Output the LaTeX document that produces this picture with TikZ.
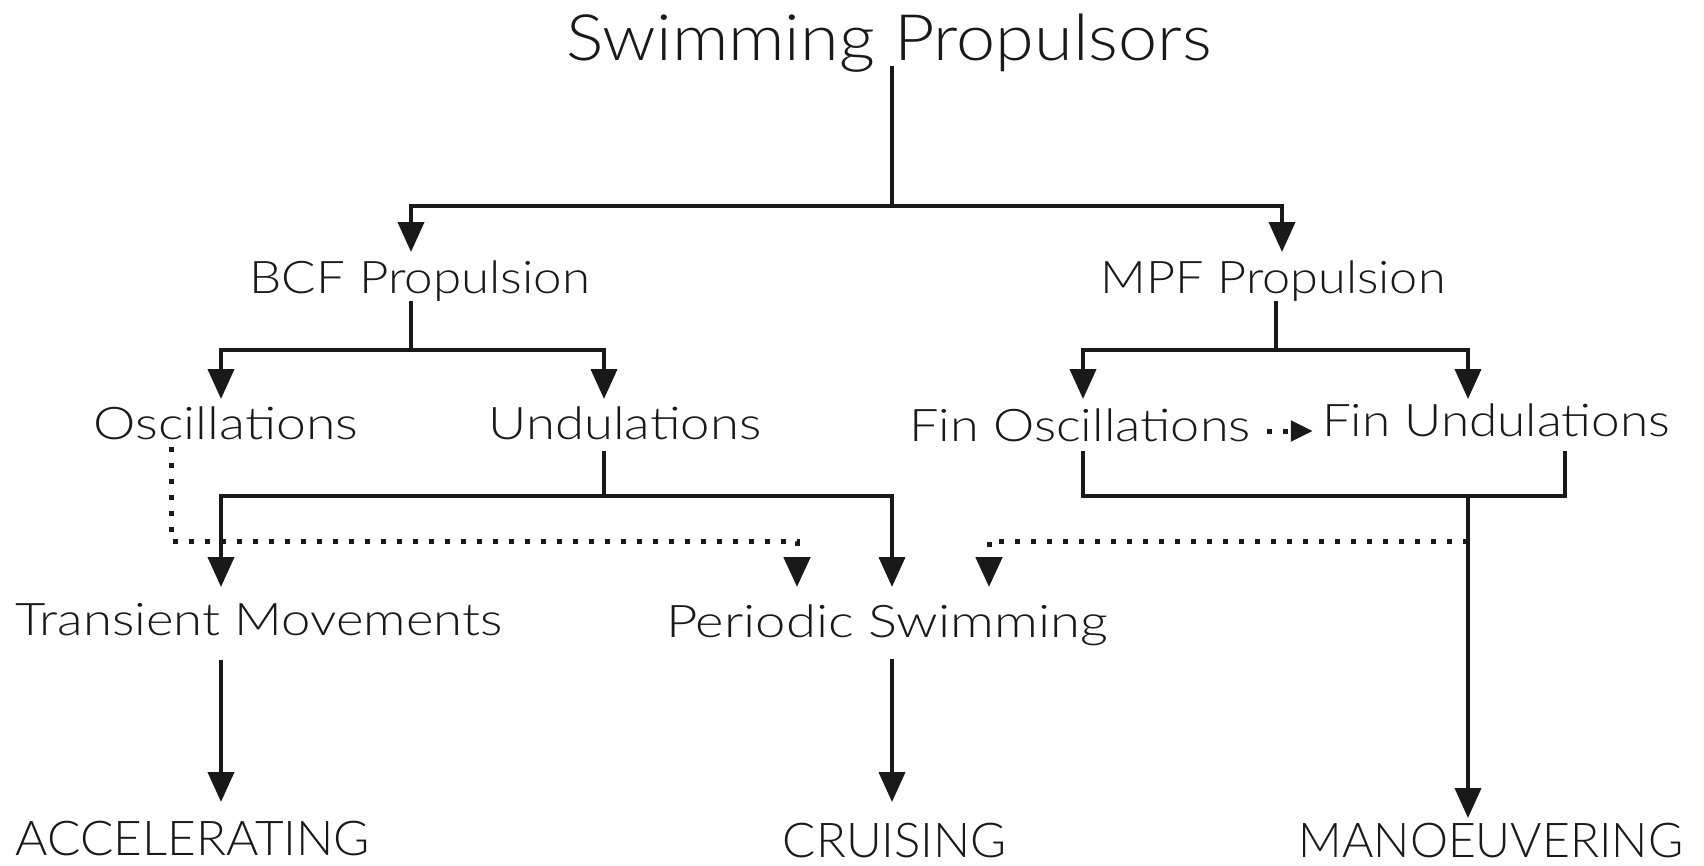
\documentclass[tikz,border=0pt]{standalone}
\usepackage{fontspec}
\usepackage{graphicx}
\setmainfont{Lato Light}
\usetikzlibrary{arrows.meta}
\newcommand{\hsc}[2]{\scalebox{#1}[1]{#2}}
\begin{document}
\begin{tikzpicture}[x=1pt,y=-1pt,
  ln/.style={line width=4pt, line cap=butt, line join=miter, color=black!90},
  arr/.style={ln, -{Triangle[width=26pt,length=30pt]}},
  dotln/.style={line width=5pt, dash pattern=on 5pt off 11pt, color=black!90},
  darr/.style={dotln, -{Triangle[width=26pt,length=30pt]}},
  sarr/.style={dotln, -{Triangle[width=20pt,length=22pt]}},
  lbl/.style={inner sep=0pt, anchor=base, text=black!90, font=\fontsize{45}{50}\selectfont},
  biglbl/.style={lbl, font=\fontsize{64}{70}\selectfont},
  caplbl/.style={lbl, font=\fontsize{48}{54}\selectfont}
]
\useasboundingbox (0,0) rectangle (1704,865);
% texts
\node[biglbl] (title) at (889,60) {\hsc{1.096}{Swimming Propulsors}};
\node[lbl] (bcf) at (420,293) {\hsc{1.135}{BCF Propulsion}};
\node[lbl] (mpf) at (1273,293) {\hsc{1.12}{MPF Propulsion}};
\node[lbl] (osc) at (226,439) {\hsc{1.19}{Oscillations}};
\node[lbl] (und) at (625,439) {\hsc{1.17}{Undulations}};
\node[lbl] (fosc) at (1080,441) {\hsc{1.16}{Fin Oscillations}};
\node[lbl] (fund) at (1496,436) {\hsc{1.14}{Fin Undulations}};
\node[lbl] (trans) at (259,635) {\hsc{1.17}{Transient Movements}};
\node[lbl] (per) at (887,637) {\hsc{1.21}{Periodic Swimming}};
\node[caplbl] (acc) at (193,855) {\hsc{1.03}{ACCELERATING}};
\node[caplbl] (cru) at (895,857) {\hsc{1.025}{CRUISING}};
\node[caplbl] (man) at (1491,857) {MANOEUVERING};
% junctions and tips
\coordinate (tj) at (892,206);
\coordinate (bcfin) at (411,252);
\coordinate (mpfin) at (1282,252);
\coordinate (bj) at (411,350);
\coordinate (oscin) at (221,399);
\coordinate (undin) at (604,399);
\coordinate (mj) at (1276,350);
\coordinate (foscin) at (1083,399);
\coordinate (fundin) at (1468,399);
\coordinate (uj) at (604,496);
\coordinate (transin) at (221,587);
\coordinate (perin) at (892,587);
\coordinate (fj1) at (1083,496);
\coordinate (fj2) at (1565,496);
\coordinate (fjm) at (1468,496);
\coordinate (manin) at (1468,818);
\coordinate (accin) at (221,802);
\coordinate (cruin) at (892,802);
\coordinate (od) at (171,541);
\coordinate (odr) at (797,541);
\coordinate (perdin) at (797,587);
\coordinate (md) at (1468,541);
\coordinate (mdl) at (989,541);
\coordinate (perdin2) at (989,587);
\coordinate (fd) at (0,431);
% connectors
\draw[ln, shorten <=-6pt] (title.south -| tj) -- (tj);
\draw[arr] (tj) -| (bcfin);
\draw[arr] (tj) -| (mpfin);
\draw[ln] (bcf.south -| bj) -- (bj);
\draw[arr] (bj) -| (oscin);
\draw[arr] (bj) -| (undin);
\draw[ln] (mpf.south -| mj) -- (mj);
\draw[arr] (mj) -| (foscin);
\draw[arr] (mj) -| (fundin);
\draw[ln, shorten <=11pt] (und.south -| uj) -- (uj);
\draw[arr] (uj) -| (transin);
\draw[arr] (uj) -| (perin);
\draw[ln, shorten <=9pt, shorten >=14pt] (fosc.south -| fj1) -- (fj1) -- (fj2) -- (fund.south -| fj2);
\draw[arr] (fjm) -- (manin);
\draw[arr, shorten <=24pt] (trans.south -| accin) -- (accin);
\draw[arr, shorten <=13pt] (per.south -| cruin) -- (cruin);
\draw[darr, shorten <=7pt] (osc.south -| od) -- (od) -- (odr) -- (perdin);
\draw[darr] (md) -- (mdl) -- (perdin2);
\draw[sarr, shorten <=16pt, shorten >=9pt] (fosc.east |- fd) -- (fund.west |- fd);
\end{tikzpicture}
\end{document}
